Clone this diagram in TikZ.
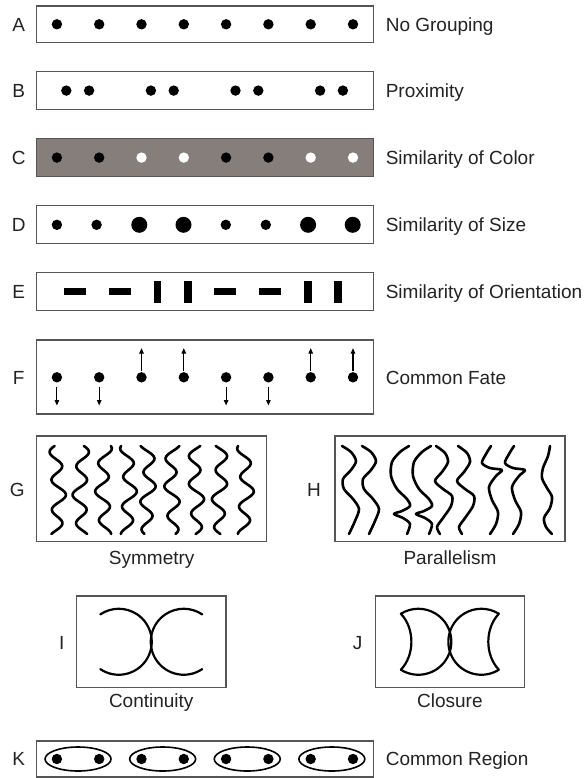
\documentclass[tikz,border=0pt]{standalone}
\usepackage{fontspec}
\setmainfont{Liberation Sans}
\usetikzlibrary{arrows.meta,shapes.geometric}
\definecolor{boxline}{RGB}{85,85,85}
\definecolor{txt}{RGB}{35,35,35}
\definecolor{cfill}{RGB}{133,126,123}
\begin{document}
\begin{tikzpicture}[x=1pt,y=-1pt,
  frame/.style={draw=boxline, line width=1.4pt, inner sep=0pt, outer sep=0pt},
  dot/.style={circle, fill=black, inner sep=0pt, outer sep=0pt, minimum size=10.4pt},
  bigdot/.style={dot, minimum size=16pt},
  wdot/.style={dot, fill=white},
  lab/.style={text=txt, font=\fontsize{19}{22}\selectfont, inner sep=0pt, anchor=base west},
  letter/.style={text=txt, font=\fontsize{19}{22}\selectfont, inner sep=0pt, anchor=base},
  hbar/.style={fill=black, inner sep=0pt, minimum width=22pt, minimum height=7pt},
  vbar/.style={fill=black, inner sep=0pt, minimum width=7.5pt, minimum height=22pt},
  farrow/.style={line width=1.1pt, -{Triangle[length=5.5pt,width=4.5pt]}},
  wave/.style={line width=2.6pt, line cap=round, line join=round},
  arcline/.style={line width=2.2pt, line cap=round, line join=round},
  region/.style={ellipse, draw=black, line width=1.6pt, inner sep=0pt, minimum width=66pt, minimum height=24pt}
]
\useasboundingbox[fill=white] (0,0) rectangle (587,778);

% ---------- Row A ----------
\node[frame, minimum width=337pt, minimum height=36.5pt] (boxA) at (204.8,24.3) {};
\node[letter] (lA) at (18.7,31.1) {A};
\node[lab] (tA) at (385.6,31.1) {No Grouping};
\foreach \x [count=\i] in {56.9,99.2,141.5,183.8,226.1,268.4,310.7,353.0}
  \node[dot] (a\i) at (\x,24.3) {};

% ---------- Row B ----------
\node[frame, minimum width=337pt, minimum height=37.5pt] (boxB) at (204.8,90.5) {};
\node[letter] (lB) at (18.7,97.4) {B};
\node[lab] (tB) at (385.6,97.4) {Proximity};
\foreach \x [count=\i] in {66.3,89.1,150.9,173.7,235.5,258.3,320.1,342.9}
  \node[dot] (b\i) at (\x,90.6) {};

% ---------- Row C ----------
\node[frame, fill=cfill, minimum width=337pt, minimum height=38pt] (boxC) at (204.8,157.5) {};
\node[letter] (lC) at (18.7,164.4) {C};
\node[lab] (tC) at (385.6,164.4) {Similarity of Color};
\node[dot]  (c1) at (56.9,157.6) {};
\node[dot]  (c2) at (99.2,157.6) {};
\node[wdot] (c3) at (141.5,157.6) {};
\node[wdot] (c4) at (183.8,157.6) {};
\node[dot]  (c5) at (226.1,157.6) {};
\node[dot]  (c6) at (268.4,157.6) {};
\node[wdot] (c7) at (310.7,157.6) {};
\node[wdot] (c8) at (353.0,157.6) {};

% ---------- Row D ----------
\node[frame, minimum width=337pt, minimum height=37.6pt] (boxD) at (204.8,224.5) {};
\node[letter] (lD) at (18.7,231.5) {D};
\node[lab] (tD) at (385.6,231.5) {Similarity of Size};
\node[dot]    (d1) at (56.9,224.8) {};
\node[dot]    (d2) at (96.6,224.8) {};
\node[bigdot] (d3) at (139.3,224.8) {};
\node[bigdot] (d4) at (183.5,224.8) {};
\node[dot]    (d5) at (225.8,224.8) {};
\node[dot]    (d6) at (265.8,224.8) {};
\node[bigdot] (d7) at (308.1,224.8) {};
\node[bigdot] (d8) at (352.7,224.8) {};

% ---------- Row E ----------
\node[frame, minimum width=337pt, minimum height=38pt] (boxE) at (204.8,291.7) {};
\node[letter] (lE) at (18.7,298.5) {E};
\node[lab] (tE) at (385.6,298.5) {Similarity of Orientation};
\node[hbar] (e1) at (75.3,291.7) {};
\node[hbar] (e2) at (119.5,291.7) {};
\node[vbar] (e3) at (157.3,291.7) {};
\node[vbar] (e4) at (188.0,291.7) {};
\node[hbar] (e5) at (225.4,291.7) {};
\node[hbar] (e6) at (270.0,291.7) {};
\node[vbar] (e7) at (307.8,291.7) {};
\node[vbar] (e8) at (338.0,291.7) {};

% ---------- Row F ----------
\node[frame, minimum width=337pt, minimum height=74pt] (boxF) at (204.8,377) {};
\node[letter] (lF) at (18.7,384.1) {F};
\node[lab] (tF) at (385.6,384.1) {Common Fate};
\foreach \x [count=\i] in {56.9,99.2,141.5,183.8,226.1,268.4,310.7,353.0}
  \node[dot] (f\i) at (\x,377.3) {};
\foreach \i in {1,2,5,6}
  \draw[farrow] ([yshift=-4pt]f\i.south) -- ++(0,19);
\foreach \i in {3,4,7,8}
  \draw[farrow] ([yshift=1pt]f\i.north) -- ++(0,-23);

% ---------- G: Symmetry ----------
\node[frame, minimum width=230pt, minimum height=105.7pt] (boxG) at (151.7,488.85) {};
\node[letter] (lG) at (17.3,496.8) {G};
\node[letter] (tG) at (151.7,564) {Symmetry};
\foreach \c/\s/\p in {57.5/1/200, 81/-1/200, 103.5/1/60, 128.5/-1/60, 148/1/300, 172/-1/300, 196/1/150, 220/-1/150, 245.5/1/240}
  \draw[wave] plot[smooth, domain=0:88, samples=45]
    ({\c + \s*(6.5*sin(12.5*\x+\p) + 2*sin(5*\x+\p))}, {446+\x});

% ---------- H: Parallelism ----------
\node[frame, minimum width=230pt, minimum height=105.7pt] (boxH) at (450,488.85) {};
\node[letter] (lH) at (314,496.8) {H};
\node[letter] (tH) at (450,564) {Parallelism};
\foreach \c in {350,370}
  \draw[wave, xshift=\c pt] plot[smooth] coordinates {(-8,446) (1,452) (6,461) (1,470) (-7,479) (-6,489) (3,499) (9,509) (5,521) (-1,534)};
\foreach \c in {401,423}
  \draw[wave, xshift=\c pt] plot[smooth] coordinates {(8,446) (-1,452) (-9,462) (-10,476) (-4,489) (6,499) (9,506) (1,511) (-7,514) (2,518) (9,524) (6,534)};
\foreach \c in {445,467}
  \draw[wave, xshift=\c pt] plot[smooth] coordinates {(-9,446) (0,453) (3,462) (-3,472) (-10,481) (-2,489) (7,496) (6,506) (-2,518) (-8,527) (-5,534)};
\foreach \c in {494,517}
  \draw[wave, xshift=\c pt] plot[smooth] coordinates {(-3,446) (-8,454) (-12,463) (-4,468) (8,470) (2,476) (-5,487) (-2,500) (4,512) (2,524) (-4,534)};
\draw[wave, xshift=548pt] plot[smooth] coordinates {(2,446) (0,456) (-5,468) (-6,478) (-1,488) (4,497) (2,508) (-4,518) (-2,527) (4,534)};

% ---------- I: Continuity ----------
\node[frame, minimum width=149.5pt, minimum height=91.5pt] (boxI) at (151.25,641.75) {};
\node[letter] (lI) at (61.8,649.8) {I};
\node[letter] (tI) at (151.25,707) {Continuity};
\draw[arcline] (118.75,641.75) ++(124:33) arc[start angle=124, end angle=-124, radius=33];
\draw[arcline] (183.75,641.75) ++(56:33) arc[start angle=56, end angle=304, radius=33];

% ---------- J: Closure ----------
\node[frame, minimum width=148.7pt, minimum height=91.5pt] (boxJ) at (449.85,641.75) {};
\node[letter] (lJ) at (357.5,649.8) {J};
\node[letter] (tJ) at (449.85,707) {Closure};
\draw[arcline] (418.35,641.75) ++(122:33) arc[start angle=122, end angle=-122, radius=33]
  .. controls (414.9,628.5) and (414.9,655) .. (400.86,669.74);
\draw[arcline] (481.35,641.75) ++(58:33) arc[start angle=58, end angle=302, radius=33]
  .. controls (484.8,628.5) and (484.8,655) .. (498.84,669.74);

% ---------- K: Common Region ----------
\node[frame, minimum width=337pt, minimum height=36pt] (boxK) at (204.8,759) {};
\node[letter] (lK) at (18.7,765.8) {K};
\node[lab] (tK) at (385.6,765.8) {Common Region};
\foreach \c [count=\i] in {78.05,162.65,247.25,331.85}
  \node[region] (r\i) at (\c,759) {};
\foreach \x [count=\i] in {56.9,99.2,141.5,183.8,226.1,268.4,310.7,353.0}
  \node[dot] (k\i) at (\x,759) {};
\end{tikzpicture}
\end{document}
